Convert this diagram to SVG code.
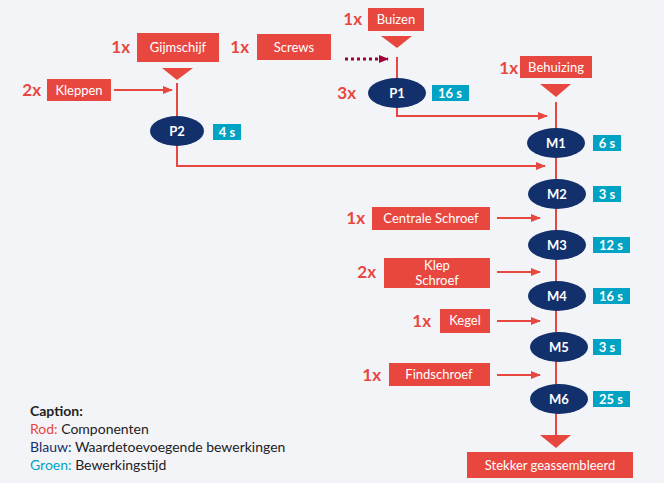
<svg xmlns="http://www.w3.org/2000/svg" width="664" height="483" viewBox="0 0 664 483">
<style>
text{font-family:"Lato","Liberation Sans",sans-serif}
.b{fill:#e8473f}.bt{fill:#fff;font-size:13px;text-anchor:middle}
.q{fill:#e8473f;font-size:17px;font-weight:bold;text-anchor:end}
.e{fill:#12306b}.et{fill:#fff;font-size:13px;font-weight:bold;text-anchor:middle}
.t{fill:#00a3c4}.tt{fill:#fff;font-size:13px;font-weight:bold;text-anchor:middle}
.l{stroke:#e8473f;stroke-width:2;fill:none}
.c{font-size:14px;fill:#222}
</style>
<defs><marker id="a" markerWidth="10" markerHeight="8" refX="9" refY="4" orient="auto" markerUnits="userSpaceOnUse"><path d="M0,0L10,4L0,8z" fill="#e8473f"/></marker>
<marker id="d" markerWidth="10" markerHeight="8" refX="9" refY="4" orient="auto" markerUnits="userSpaceOnUse"><path d="M0,0L10,4L0,8z" fill="#a0003a"/></marker></defs>
<rect width="664" height="483" fill="#f3f4f8"/>
<g id="connectors">
<path class="l" d="M177,83V166H545" marker-end="url(#a)"/>
<path class="l" d="M114,90H172" marker-end="url(#a)"/>
<path d="M345,59H388" stroke="#a0003a" stroke-width="3" stroke-dasharray="3,3" marker-end="url(#d)"/>
<path class="l" d="M397,57V116H547" marker-end="url(#a)"/>
<path class="l" d="M556,102V437"/>
<path class="l" d="M497,218H540" marker-end="url(#a)"/>
<path class="l" d="M497,272H540" marker-end="url(#a)"/>
<path class="l" d="M497,321H540" marker-end="url(#a)"/>
<path class="l" d="M497,375H540" marker-end="url(#a)"/>
</g>
<g id="gijmschijf"><rect class="b" x="137" y="33" width="82" height="29"/><text class="bt" x="178" y="52">Gijmschijf</text><text class="q" x="130" y="53">1x</text><path class="b" d="M162,68H193L177,80z"/></g>
<g id="screws"><rect class="b" x="257" y="34" width="74" height="26"/><text class="bt" x="294" y="52">Screws</text><text class="q" x="249" y="53">1x</text></g>
<g id="kleppen"><rect class="b" x="47" y="79" width="64" height="22"/><text class="bt" x="79" y="95">Kleppen</text><text class="q" x="41" y="96">2x</text></g>
<g id="p2"><ellipse class="e" cx="177" cy="131" rx="27" ry="15"/><text class="et" x="177" y="136">P2</text><rect class="t" x="213" y="124" width="28" height="16"/><text class="tt" x="227" y="137">4 s</text></g>
<g id="buizen"><rect class="b" x="368" y="8" width="56" height="23"/><text class="bt" x="396" y="24">Buizen</text><text class="q" x="362" y="25">1x</text><path class="b" d="M381,36H412L397,48z"/></g>
<g id="p1"><ellipse class="e" cx="397" cy="93" rx="29" ry="15"/><text class="et" x="397" y="98">P1</text><text class="q" x="356" y="99">3x</text><rect class="t" x="432" y="85" width="37" height="16"/><text class="tt" x="450" y="98">16 s</text></g>
<g id="behuizing"><rect class="b" x="520" y="56" width="72" height="22"/><text class="bt" x="556" y="72">Behuizing</text><text class="q" x="518" y="74">1x</text><path class="b" d="M540,84H571L556,97z"/></g>
<g id="m1"><ellipse class="e" cx="556" cy="143" rx="29" ry="15"/><text class="et" x="556" y="148">M1</text><rect class="t" x="593" y="135" width="28" height="16"/><text class="tt" x="607" y="148">6 s</text></g>
<g id="m2"><ellipse class="e" cx="557" cy="194" rx="29" ry="15"/><text class="et" x="557" y="199">M2</text><rect class="t" x="593" y="186" width="28" height="16"/><text class="tt" x="607" y="199">3 s</text></g>
<g id="centrale"><rect class="b" x="372" y="207" width="118" height="23"/><text class="bt" x="431" y="223">Centrale Schroef</text><text class="q" x="365" y="224">1x</text></g>
<g id="m3"><ellipse class="e" cx="557" cy="245" rx="29" ry="15"/><text class="et" x="557" y="250">M3</text><rect class="t" x="593" y="237" width="37" height="16"/><text class="tt" x="611" y="250">12 s</text></g>
<g id="klep"><rect class="b" x="384" y="258" width="106" height="30"/><text class="bt" x="437" y="270" font-size="12">Klep</text><text class="bt" x="437" y="285" font-size="12">Schroef</text><text class="q" x="376" y="278">2x</text></g>
<g id="m4"><ellipse class="e" cx="557" cy="296" rx="29" ry="15"/><text class="et" x="557" y="301">M4</text><rect class="t" x="593" y="288" width="37" height="16"/><text class="tt" x="611" y="301">16 s</text></g>
<g id="kegel"><rect class="b" x="440" y="309" width="50" height="24"/><text class="bt" x="465" y="325">Kegel</text><text class="q" x="431" y="327">1x</text></g>
<g id="m5"><ellipse class="e" cx="559" cy="347" rx="29" ry="15"/><text class="et" x="559" y="352">M5</text><rect class="t" x="593" y="339" width="28" height="16"/><text class="tt" x="607" y="352">3 s</text></g>
<g id="findschroef"><rect class="b" x="389" y="363" width="101" height="23"/><text class="bt" x="439" y="379">Findschroef</text><text class="q" x="381" y="381">1x</text></g>
<g id="m6"><ellipse class="e" cx="559" cy="399" rx="29" ry="15"/><text class="et" x="559" y="404">M6</text><rect class="t" x="593" y="391" width="37" height="16"/><text class="tt" x="611" y="404">25 s</text></g>
<g id="stekker"><path class="b" d="M540,435H571L556,448z"/><rect class="b" x="467" y="452" width="166" height="26"/><text class="bt" x="550" y="470">Stekker geassembleerd</text></g>
<g id="caption">
<text class="c" x="30" y="416" font-weight="bold">Caption:</text>
<text class="c" x="30" y="434"><tspan fill="#e8473f">Rod:</tspan> Componenten</text>
<text class="c" x="30" y="452"><tspan fill="#12306b">Blauw:</tspan> Waardetoevoegende bewerkingen</text>
<text class="c" x="30" y="470"><tspan fill="#00a3c4">Groen:</tspan> Bewerkingstijd</text>
</g>
</svg>
